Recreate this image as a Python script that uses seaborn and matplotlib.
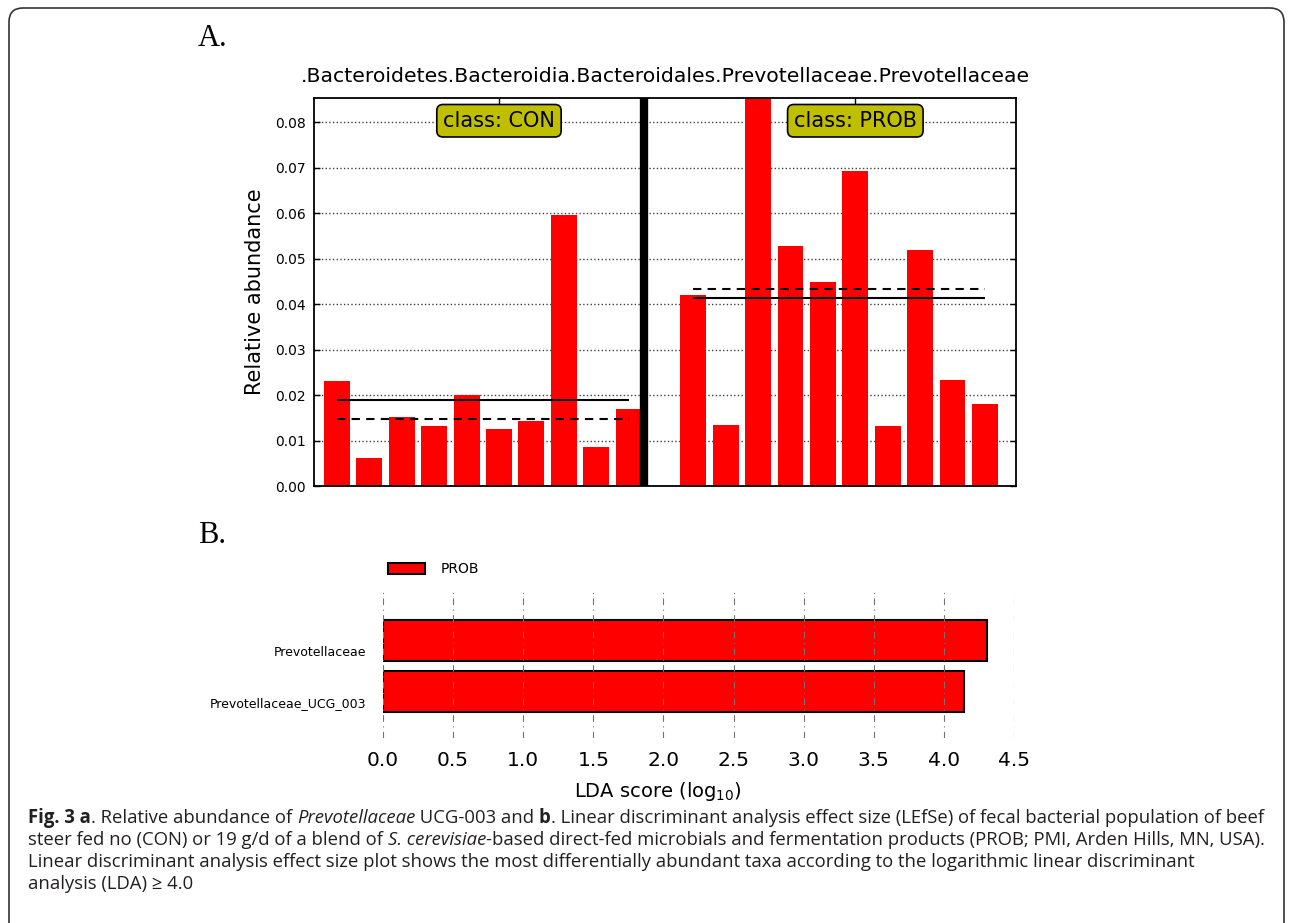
import numpy as np
import pandas as pd
import matplotlib
matplotlib.use("Agg")
import matplotlib.pyplot as plt
import seaborn as sns
from matplotlib.patches import Patch, FancyBboxPatch
from matplotlib.transforms import IdentityTransform

# ---------------- data ----------------
con_values = [0.0231, 0.0061, 0.0152, 0.0132, 0.0200, 0.0126, 0.0142, 0.0595, 0.0086, 0.0169]
prob_values = [0.0419, 0.0135, 0.0853, 0.0528, 0.0449, 0.0692, 0.0131, 0.0518, 0.0233, 0.0180]
classes = ["CON", "PROB"]
feature_title = ".Bacteroidetes.Bacteroidia.Bacteroidales.Prevotellaceae.Prevotellaceae"
yticks_a = [0.00, 0.01, 0.02, 0.03, 0.04, 0.05, 0.06, 0.07, 0.08]

taxa = ["Prevotellaceae", "Prevotellaceae_UCG_003"]
lda_scores = [4.31, 4.14]
lda_class = "PROB"
xticks_b = [0.0, 0.5, 1.0, 1.5, 2.0, 2.5, 3.0, 3.5, 4.0, 4.5]

caption_lines = [
    [("Fig. 3 a", "bold", "normal"), (". Relative abundance of ", "normal", "normal"),
     ("Prevotellaceae", "normal", "italic"), (" UCG-003 and ", "normal", "normal"),
     ("b", "bold", "normal"),
     (". Linear discriminant analysis effect size (LEfSe) of fecal bacterial population of beef", "normal", "normal")],
    [("steer fed no (CON) or 19 g/d of a blend of ", "normal", "normal"),
     ("S. cerevisiae", "normal", "italic"),
     ("-based direct-fed microbials and fermentation products (PROB; PMI, Arden Hills, MN, USA).", "normal", "normal")],
    [("Linear discriminant analysis effect size plot shows the most differentially abundant taxa according to the logarithmic linear discriminant", "normal", "normal")],
    [("analysis (LDA) \u2265 4.0", "normal", "normal")],
]

# ---------------- setup ----------------
W, H = 1292, 923
sns.set_theme(style="white")
plt.rcParams["font.family"] = ["DejaVu Sans"]
plt.rcParams["text.color"] = "black"
plt.rcParams["axes.labelcolor"] = "black"
plt.rcParams["xtick.color"] = "black"
plt.rcParams["ytick.color"] = "black"

fig = plt.figure(figsize=(W / 100, H / 100), dpi=100)
fig.patch.set_facecolor("white")


def fx(px):
    return px / W


def fy(py):
    return 1 - py / H


# ---------------- panel A ----------------
ax1 = fig.add_axes([fx(314), fy(486), fx(1016) - fx(314), fy(98) - fy(486)])
n_con = len(con_values)
pos_con = [i + 0.4 for i in range(n_con)]
pos_prob = [n_con + 1 + i + 0.4 for i in range(len(prob_values))]
df_a = pd.DataFrame({
    "pos": pos_con + pos_prob,
    "abundance": con_values + prob_values,
    "cls": [classes[0]] * n_con + [classes[1]] * len(prob_values),
})
sns.barplot(data=df_a, x="pos", y="abundance", native_scale=True, color="red",
            saturation=1, width=0.8, linewidth=0, errorbar=None, ax=ax1)
ax1.set_axisbelow(True)
ax1.set_xlim(pos_con[0] - 0.71, pos_prob[-1] + 0.96)
ax1.set_ylim(0, max(con_values + prob_values))
ax1.set_yticks(yticks_a)
ax1.set_yticklabels([f"{v:.2f}" for v in yticks_a], fontsize=10)
ax1.yaxis.grid(True, linestyle=":", color="0.25", linewidth=1.0)
ax1.xaxis.grid(False)

centers = []
for vals, xs in ((con_values, pos_con), (prob_values, pos_prob)):
    ax1.hlines(np.mean(vals), xs[0], xs[-1], colors="black", linewidth=1.5, zorder=3)
    ax1.hlines(np.median(vals), xs[0], xs[-1], colors="black", linewidth=1.5,
               linestyles=(0, (4, 3)), zorder=3)
    centers.append((xs[0] + xs[-1]) / 2 + 0.5)

ax1.axvline((pos_con[-1] + pos_prob[0]) / 2 - 0.53, color="black", linewidth=6, zorder=4)

for cx, cl in zip(centers, classes):
    ax1.text(cx, 0.0803, f"class: {cl}", ha="center", va="center", fontsize=15, zorder=6,
             bbox=dict(boxstyle="round,pad=0.3", fc=(0.75, 0.75, 0.0), ec="black", lw=1.2))

ax1.set_xticks(centers)
ax1.set_xticklabels(["", ""])
ax1.set_xlabel("")
ax1.tick_params(axis="x", direction="in", length=6, width=1, top=True, bottom=True,
                labelbottom=False)
ax1.tick_params(axis="y", direction="in", length=4, width=1, left=True, right=True, pad=6)
for sp in ax1.spines.values():
    sp.set_visible(True)
    sp.set_color("black")
    sp.set_linewidth(1.3)
ax1.set_ylabel("Relative abundance", fontsize=15)
ax1.yaxis.set_label_coords(-0.0698, 0.5)
ax1.set_title(feature_title, fontsize=14.7, pad=11.5)

# ---------------- panel B ----------------
ax2 = fig.add_axes([fx(383), fy(738), fx(1014) - fx(383), fy(588) - fy(738)])
df_b = pd.DataFrame({"taxon": taxa, "lda": lda_scores, "cls": [lda_class] * len(taxa)})
sns.barplot(data=df_b, x="lda", y="taxon", orient="h", color="red", saturation=1,
            edgecolor="black", linewidth=1.5, width=0.8, errorbar=None, ax=ax2)
ax2.set_axisbelow(False)
ax2.set_xlim(xticks_b[0], xticks_b[-1])
ax2.set_ylim(1.91, -1.03)
ax2.set_xticks(xticks_b)
ax2.set_xticklabels([f"{v:.1f}" for v in xticks_b], fontsize=14.5)
ax2.set_yticks([i + 0.21 for i in range(len(taxa))])
ax2.set_yticklabels(taxa, fontsize=9)
ax2.set_ylabel("")
ax2.xaxis.grid(True, linestyle=(0, (6, 4, 1, 4)), color="0.45", linewidth=0.8)
ax2.yaxis.grid(False)
ax2.tick_params(axis="x", length=0, pad=9.5)
ax2.tick_params(axis="y", length=0, pad=12)
for sp in ax2.spines.values():
    sp.set_visible(False)
ax2.set_xlabel("LDA score (log$_{10}$)", fontsize=14)
ax2.xaxis.set_label_coords((658 - 383) / (1014 - 383), -0.28)

fig.legend(handles=[Patch(facecolor="red", edgecolor="black", linewidth=1.5)],
           labels=[lda_class], loc="center left", bbox_to_anchor=(fx(388), fy(569)),
           frameon=False, fontsize=10, handlelength=2.66, handleheight=0.86,
           handletextpad=1.15, borderpad=0, borderaxespad=0)

# ---------------- panel letters ----------------
serif = ["Liberation Serif", "DejaVu Serif"]
fig.text(fx(198), fy(46), "A.", family=serif, fontsize=22, va="baseline", ha="left")
fig.text(fx(198), fy(543), "B.", family=serif, fontsize=22, va="baseline", ha="left")

# ---------------- frame ----------------
frame = FancyBboxPatch((9, -30), 1275, 945, boxstyle="round,pad=0,rounding_size=14",
                       fc="none", ec="#333333", lw=1.2, transform=IdentityTransform())
fig.add_artist(frame)

# ---------------- caption ----------------
cap_family = ["Open Sans", "DejaVu Sans"]
renderer = fig.canvas.get_renderer()


def text_width(s, size, weight, style):
    t = fig.text(0, 0, "|" + s + "|", fontsize=size, family=cap_family, weight=weight, style=style)
    w1 = t.get_window_extent(renderer).width
    t.set_text("||")
    w2 = t.get_window_extent(renderer).width
    t.remove()
    return w1 - w2


def line_width(segs, size):
    return sum(text_width(s, size, w, st) for s, w, st in segs)


base = 10.0
cap_size = base * (1268 - 28) / line_width(caption_lines[0], base)
baselines = [823, 845, 867, 889]
for segs, yb in zip(caption_lines, baselines):
    x = 28.0
    for s, w, st in segs:
        fig.text(fx(x), fy(yb), s, fontsize=cap_size, family=cap_family, weight=w, style=st,
                 va="baseline", ha="left", color="#231f20")
        x += text_width(s, cap_size, w, st)

fig.savefig("out.png", dpi=100, facecolor="white")
